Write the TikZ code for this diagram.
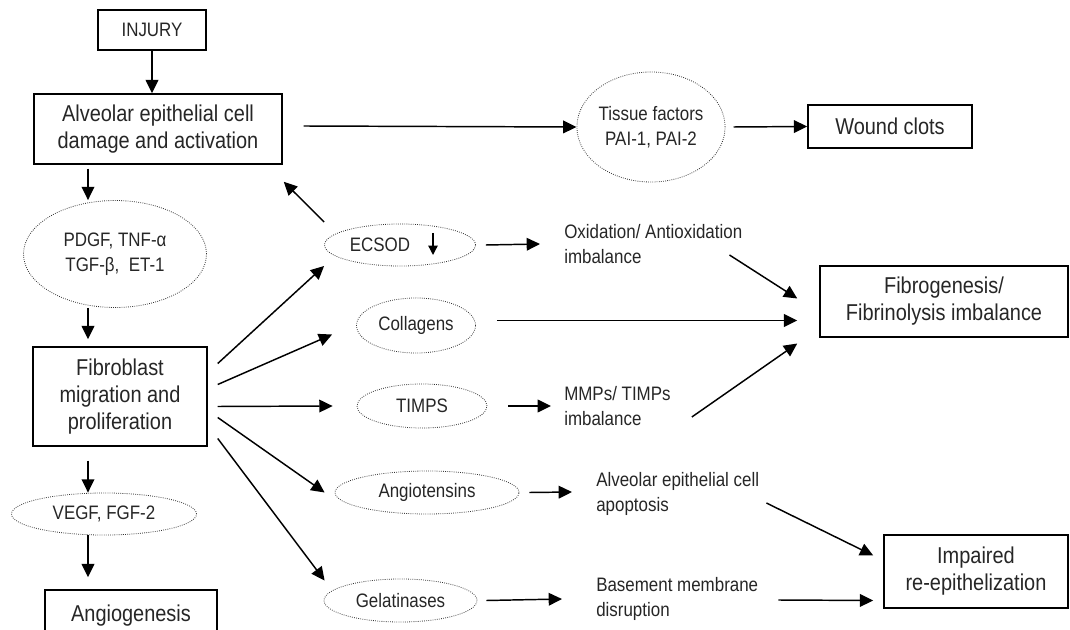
\documentclass[tikz,border=0pt]{standalone}
\usepackage{fontspec}
\setmainfont{Liberation Sans}[FakeStretch=0.87]
\usepackage{tikz}
\usetikzlibrary{calc}
\usetikzlibrary{shapes.geometric}
\usetikzlibrary{arrows.meta}
\newcommand{\stagefont}{\fontsize{17.2pt}{20.25pt}\selectfont}
\newcommand{\factorfont}{\fontsize{14.6pt}{18.75pt}\selectfont}
\tikzset{
    common/.style={text=black!85, align=center, inner sep=0pt},
    stage/.style={common, draw, rectangle, line width=1.1pt, font=\stagefont},
    factor/.style={common, draw=black!80, ellipse, densely dotted, line width=0.6pt, font=\factorfont},
    outcome/.style={common, anchor=west, align=left, font=\factorfont},
    flow/.style={-{Triangle[length=10pt, width=9.5pt]}, line width=1.1pt},
    small-flow/.style={-{Triangle[length=7pt, width=7pt]}, line width=1pt}
}

\begin{document}
\begin{tikzpicture}[x=0.75pt, y=-0.75pt]
          \useasboundingbox (0,0) rectangle (1070,630);

          \path
            (152,30) node[stage, minimum width=81pt, minimum height=30pt, font=\factorfont] (injury) {INJURY}
            (158,129) node[stage, minimum width=186pt, minimum height=52.5pt] (alveolar) {Alveolar epithelial cell\\damage and activation}
            (120,396.5) node[stage, minimum width=130.5pt, minimum height=74.25pt] (fibroblast) {Fibroblast\\migration and\\proliferation}
            (131,616) node[stage, minimum width=129pt, minimum height=39pt] (angiogenesis) {Angiogenesis}
            (890,126.5) node[stage, minimum width=123pt, minimum height=32.25pt] (wound-clots) {Wound clots}
            (944,301.5) node[stage, minimum width=186pt, minimum height=53.25pt] (fibrogenesis) {Fibrogenesis/\\Fibrinolysis imbalance}
            (976,571.5) node[stage, minimum width=138pt, minimum height=54.75pt] (impaired) {Impaired\\re-epithelization};

          \path
            (115,254) node[factor, minimum width=137.25pt, minimum height=80.25pt] (growth-factors) {PDGF, TNF-α\\TGF-β,\ \ ET-1}
            (104,514) node[factor, minimum width=138.75pt, minimum height=31.5pt] (vegf) {VEGF, FGF-2}
            (651,127) node[factor, minimum width=111pt, minimum height=82.5pt] (tissue-factors) {Tissue factors\\PAI-1, PAI-2}
            (400,245) node[factor, minimum width=113.25pt, minimum height=31.5pt] (ecsod) {ECSOD\hspace{30pt}}
            (416,325.5) node[factor, minimum width=89.25pt, minimum height=41.25pt] (collagens) {Collagens}
            (422,406) node[factor, minimum width=97.5pt, minimum height=33pt] (timps) {TIMPS}
            (427,492.5) node[factor, minimum width=138pt, minimum height=32.25pt] (angiotensins) {Angiotensins}
            (400.5,600.5) node[factor, minimum width=114.75pt, minimum height=32.25pt] (gelatinases) {Gelatinases};

          \path
            (564,244) node[outcome] (oxidation) {Oxidation/ Antioxidation\\imbalance}
            (564,406) node[outcome] (mmps) {MMPs/ TIMPs\\imbalance}
            (596,494) node[outcome] (apoptosis) {Alveolar epithelial cell\\apoptosis}
            (596,599) node[outcome] (basement) {Basement membrane\\disruption};

          \coordinate (spine) at (88,0);
          \coordinate (ecsod-down-top) at ($(ecsod)+(33,-12)$);
          \coordinate (ecsod-down-tip) at ($(ecsod)+(33,10)$);

          \draw[small-flow] (ecsod-down-top) -- (ecsod-down-tip);

          \path[every edge/.append style={flow}]
            (injury.south) edge (injury.south |- alveolar.north)
            ($(spine |- alveolar.south)+(0,4)$) edge (spine |- growth-factors.north)
            (spine |- growth-factors.south) edge ($(spine |- fibroblast.north)+(0,-7)$)
            ($(spine |- fibroblast.south)+(0,14)$) edge (spine |- vegf.north)
            (spine |- vegf.south) edge ($(spine |- angiogenesis.north)+(0,-12)$)
            ($(alveolar.east)+(21,-3)$) edge (tissue-factors.west)
            ($(tissue-factors.east)+(8,0)$) edge (wound-clots.west)
            ($(ecsod.west)+(0,-23)$) edge ($(alveolar.south east)+(1,17)$)
            ($(ecsod.east)+(10,0)$) edge ($(oxidation.west)+(-24,0)$)
            ($(fibroblast.east)+(10,-33)$) edge ($(ecsod.west)+(0,21)$)
            ($(fibroblast.east)+(10,-12)$) edge ($(collagens.west)+(-24,9)$)
            ($(fibroblast.east)+(10,10)$) edge ($(timps.west)+(-24,0)$)
            ($(fibroblast.east)+(10,21)$) edge ($(angiotensins.west)+(-10,0)$)
            ($(fibroblast.east)+(10,42)$) edge ($(gelatinases.west)+(1,-20)$)
            ($(oxidation.east)+(-13,11)$) edge ($(fibrogenesis.west)+(-22,-3)$)
            ($(collagens.east)+(21,-5)$) edge ($(fibrogenesis.west)+(-22,19)$)
            ($(timps.east)+(21,0)$) edge ($(mmps.west)+(-13,0)$)
            ($(mmps.east)+(21,11)$) edge ($(fibrogenesis.west)+(-22,42)$)
            ($(angiotensins.east)+(10,0)$) edge ($(apoptosis.west)+(-24,-2)$)
            ($(apoptosis.east)+(7,9)$) edge ($(impaired.west)+(-10,-16)$)
            ($(gelatinases.east)+(9,0)$) edge ($(basement.west)+(-34,0)$)
            ($(basement.east)+(20,1)$) edge ($(impaired.west)+(-10,29)$);
        \end{tikzpicture}
\end{document}
